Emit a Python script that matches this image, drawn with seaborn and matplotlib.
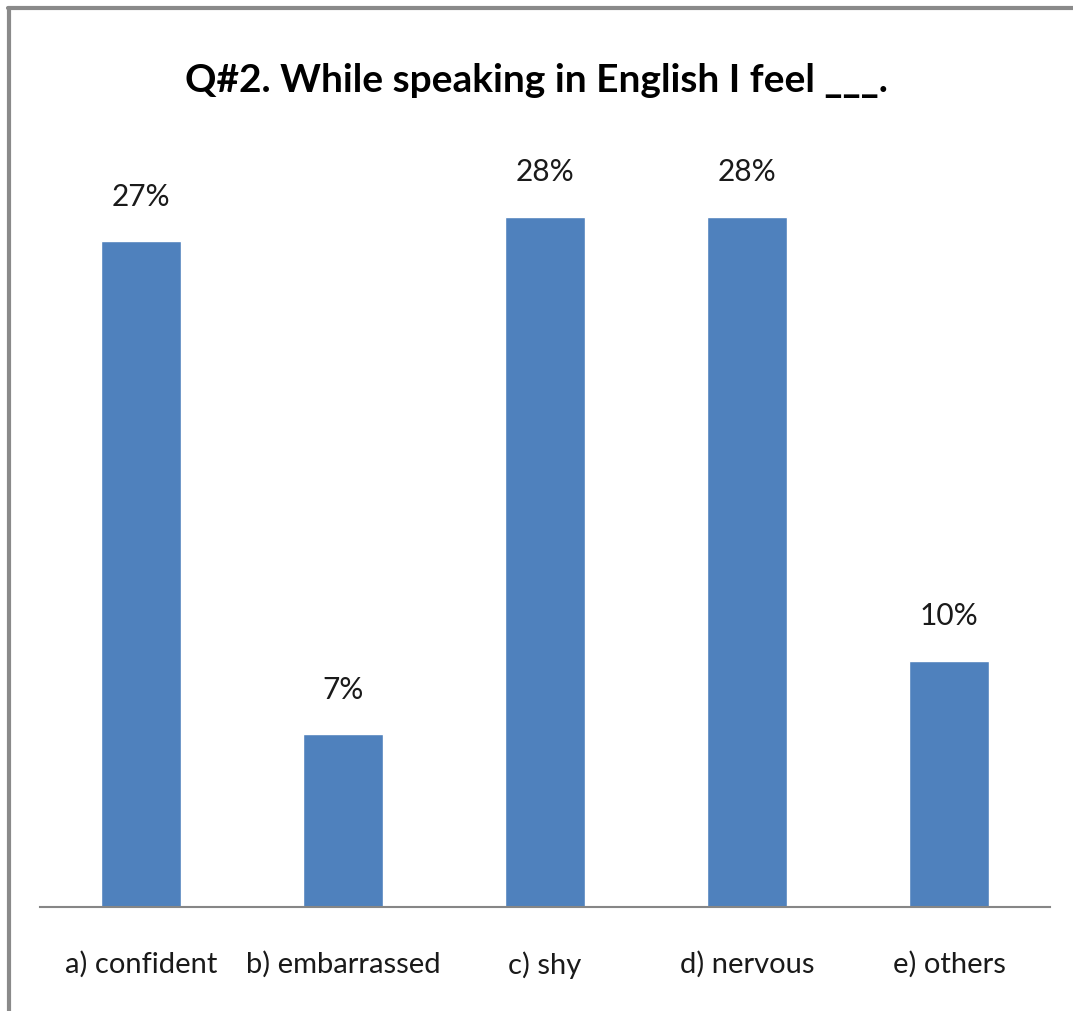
import matplotlib
matplotlib.use("Agg")
import matplotlib.pyplot as plt
from matplotlib.lines import Line2D
import seaborn as sns
import pandas as pd

categories = ["a) confident", "b) embarrassed", "c) shy", "d) nervous", "e) others"]
percentages = [27, 7, 28, 28, 10]
title_text = "Q#2. While speaking in English I feel ___."

sns.set_theme(style="white")
plt.rcParams["font.family"] = ["Lato", "DejaVu Sans"]

df = pd.DataFrame({"category": categories, "pct": percentages})

fig = plt.figure(figsize=(10.73, 10.12), dpi=100)
ax = fig.add_axes([40 / 1073, 1 - 908 / 1012, 1010 / 1073, (908 - 168.5) / 1012])

sns.barplot(data=df, x="category", y="pct", color="#4F81BD", width=0.4,
            saturation=1, ax=ax)

ax.set_xlim(-0.5, len(categories) - 0.5)
ax.set_ylim(0, 30)
ax.set_xlabel("")
ax.set_ylabel("")
ax.set_yticks([])
ax.tick_params(axis="x", length=0, labelsize=21, pad=31, colors="#1a1a1a")

for side in ("top", "right", "left"):
    ax.spines[side].set_visible(False)
ax.spines["bottom"].set_color("#868686")
ax.spines["bottom"].set_linewidth(1.5)

for i, v in enumerate(percentages):
    ax.annotate(f"{v}%", xy=(i, v), xytext=(0, 23), textcoords="offset points",
                ha="center", va="bottom", fontsize=21.5, color="#1a1a1a")

fig.text(0.5, 1 - 80 / 1012, title_text, ha="center", va="center",
         fontsize=28, fontweight="bold", color="black")

# frame lines along the top and left edges
fig.add_artist(Line2D([8 / 1073, 1], [1 - 8.5 / 1012] * 2, transform=fig.transFigure,
                      color="#8a8a8a", lw=3))
fig.add_artist(Line2D([8.5 / 1073] * 2, [0, 1 - 8.5 / 1012], transform=fig.transFigure,
                      color="#8a8a8a", lw=3))

fig.savefig("out.png", dpi=100, facecolor="white")
